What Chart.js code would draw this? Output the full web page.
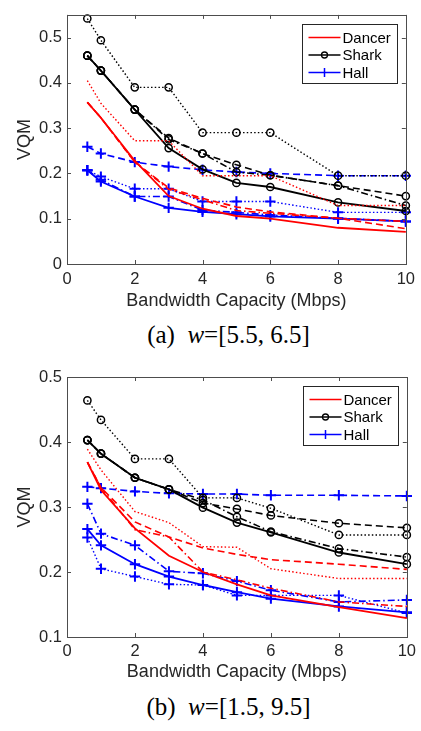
<!DOCTYPE html>
<html>
<head>
<meta charset="utf-8">
<script src="https://cdn.jsdelivr.net/npm/chart.js@4.4.1/dist/chart.umd.min.js"></script>
<style>
  html, body { margin: 0; padding: 0; background: #fff; }
  #page { position: relative; width: 421px; height: 731px; }
  canvas { position: absolute; left: 0; }
  .caption {
    position: absolute; left: 36px; width: 385px; text-align: center;
    font-family: "Liberation Serif", "Times New Roman", serif; font-size: 25px; line-height: 24px; color: #000;
  }
</style>
</head>
<body>
<div id="page">
  <canvas id="chartA" width="421" height="320" style="top:0"></canvas>
  <div class="caption" style="top:323px">(a)&nbsp; <i>w</i>=[5.5, 6.5]</div>
  <canvas id="chartB" width="421" height="330" style="top:360px"></canvas>
  <div class="caption" style="top:695px">(b)&nbsp; <i>w</i>=[1.5, 9.5]</div>
</div>
<script>
// bandwidth capacity (Mbps)
var capacity = [0.6, 1, 2, 3, 4, 5, 6, 8, 10];
var videos = ['Dancer', 'Shark', 'Hall'];
var xTicks = [0, 2, 4, 6, 8, 10];
var yTicksA = [0, 0.1, 0.2, 0.3, 0.4, 0.5];
var yTicksB = [0.1, 0.2, 0.3, 0.4, 0.5];

// (a) w=[5.5, 6.5]
var dancerSolidA   = [0.357, 0.323, 0.228, 0.150, 0.122, 0.106, 0.100, 0.080, 0.071];
var dancerDashA    = [0.357, 0.323, 0.225, 0.168, 0.145, 0.126, 0.115, 0.101, 0.078];
var dancerDotA     = [0.405, 0.355, 0.272, 0.272, 0.195, 0.195, 0.195, 0.129, 0.129];
var dancerDashDotA = [0.357, 0.323, 0.225, 0.165, 0.142, 0.118, 0.112, 0.101, 0.094];
var sharkSolidA    = [0.460, 0.427, 0.341, 0.256, 0.209, 0.179, 0.170, 0.136, 0.117];
var sharkDashA     = [0.460, 0.427, 0.341, 0.278, 0.244, 0.219, 0.196, 0.173, 0.150];
var sharkDotA      = [0.542, 0.494, 0.390, 0.390, 0.290, 0.290, 0.290, 0.195, 0.195];
var sharkDashDotA  = [0.460, 0.427, 0.341, 0.275, 0.244, 0.203, 0.196, 0.173, 0.129];
var hallSolidA     = [0.207, 0.182, 0.149, 0.124, 0.115, 0.110, 0.105, 0.100, 0.094];
var hallDashA      = [0.259, 0.244, 0.225, 0.215, 0.208, 0.203, 0.200, 0.195, 0.195];
var hallDotA       = [0.207, 0.193, 0.166, 0.166, 0.138, 0.138, 0.138, 0.114, 0.114];
var hallDashDotA   = [0.207, 0.186, 0.149, 0.149, 0.119, 0.114, 0.108, 0.101, 0.094];

// (b) w=[1.5, 9.5]
var dancerSolidB   = [0.369, 0.326, 0.267, 0.225, 0.200, 0.181, 0.164, 0.146, 0.129];
var dancerDashB    = [0.369, 0.330, 0.277, 0.254, 0.237, 0.227, 0.219, 0.212, 0.204];
var dancerDotB     = [0.389, 0.357, 0.293, 0.276, 0.239, 0.238, 0.205, 0.190, 0.190];
var dancerDashDotB = [0.369, 0.330, 0.265, 0.254, 0.200, 0.188, 0.175, 0.154, 0.147];
var sharkSolidB    = [0.403, 0.382, 0.345, 0.327, 0.299, 0.276, 0.261, 0.230, 0.212];
var sharkDashB     = [0.403, 0.382, 0.345, 0.327, 0.306, 0.297, 0.287, 0.275, 0.268];
var sharkDotB      = [0.464, 0.434, 0.374, 0.374, 0.314, 0.314, 0.298, 0.257, 0.257];
var sharkDashDotB  = [0.403, 0.382, 0.345, 0.327, 0.311, 0.285, 0.262, 0.236, 0.223];
var hallSolidB     = [0.266, 0.241, 0.212, 0.193, 0.180, 0.169, 0.159, 0.147, 0.138];
var hallDashB      = [0.331, 0.329, 0.324, 0.321, 0.320, 0.320, 0.318, 0.318, 0.317];
var hallDotB       = [0.253, 0.205, 0.193, 0.181, 0.180, 0.164, 0.164, 0.164, 0.137];
var hallDashDotB   = [0.305, 0.259, 0.241, 0.201, 0.198, 0.186, 0.172, 0.154, 0.157];

var TEXT = '#262626';
var FONT = '"Liberation Sans", Arial, Helvetica, sans-serif';
var colors = { Dancer: '#ff0000', Shark: '#000000', Hall: '#0000ff' };
var markers = { Dancer: false, Shark: 'circle', Hall: 'cross' };
var dashes = [[], [7, 4], [1.5, 2.2], [7, 3, 1.5, 3]];
var widths = [1.8, 1.6, 1.4, 1.6];

function toPoints(values) {
    return values.map(function (v, i) { return { x: capacity[i], y: v }; });
}

function buildDatasets(groups) {
    var out = [];
    videos.forEach(function (name, g) {
        groups[g].forEach(function (values, s) {
            var m = markers[name];
            out.push({
                label: name,
                data: toPoints(values),
                borderColor: colors[name],
                backgroundColor: 'transparent',
                borderWidth: widths[s],
                borderDash: dashes[s],
                pointStyle: m || 'circle',
                pointRadius: m ? (m === 'cross' ? 5.2 : 3.6) : 0,
                pointBorderWidth: m === 'cross' ? 2 : 1.5,
                pointBorderColor: colors[name],
                pointBackgroundColor: 'transparent',
                tension: 0,
                clip: 12
            });
        });
    });
    return out;
}

// box + inward tick marks, matlab style
var axisBox = {
    id: 'axisBox',
    afterDatasetsDraw: function (chart) {
        var a = chart.chartArea, ctx = chart.ctx, t = 4;
        var sx = chart.scales.x, sy = chart.scales.y;
        ctx.save();
        ctx.strokeStyle = '#4d4d4d';
        ctx.lineWidth = 1;
        ctx.strokeRect(Math.round(a.left) + 0.5, Math.round(a.top) + 0.5, Math.round(a.right - a.left), Math.round(a.bottom - a.top));
        ctx.beginPath();
        sx.ticks.forEach(function (tk) {
            var px = Math.round(sx.getPixelForValue(tk.value)) + 0.5;
            ctx.moveTo(px, a.bottom); ctx.lineTo(px, a.bottom - t);
            ctx.moveTo(px, a.top); ctx.lineTo(px, a.top + t);
        });
        sy.ticks.forEach(function (tk) {
            var py = Math.round(sy.getPixelForValue(tk.value)) + 0.5;
            ctx.moveTo(a.left, py); ctx.lineTo(a.left + t, py);
            ctx.moveTo(a.right, py); ctx.lineTo(a.right - t, py);
        });
        ctx.stroke();
        ctx.restore();
    }
};

var boxLegend = {
    id: 'boxLegend',
    afterDraw: function (chart) {
        var a = chart.chartArea, ctx = chart.ctx;
        var w = 95, h = 59;
        var left = Math.round(a.right - 9 - w) + 0.5, top = Math.round(a.top + 9) + 0.5;
        ctx.save();
        ctx.fillStyle = '#fff';
        ctx.fillRect(left, top, w, h);
        ctx.strokeStyle = '#262626';
        ctx.lineWidth = 1;
        ctx.strokeRect(left, top, w, h);
        ctx.font = '15px ' + FONT;
        ctx.textBaseline = 'middle';
        videos.forEach(function (name, i) {
            var y = top + 13 + i * 17.5;
            var x0 = left + 6, x1 = left + 38, xm = (x0 + x1) / 2;
            ctx.strokeStyle = colors[name];
            ctx.lineWidth = 1.6;
            ctx.beginPath(); ctx.moveTo(x0, y); ctx.lineTo(x1, y); ctx.stroke();
            if (markers[name] === 'circle') {
                ctx.lineWidth = 1.3;
                ctx.beginPath(); ctx.arc(xm, y, 3, 0, Math.PI * 2); ctx.stroke();
            } else if (markers[name] === 'cross') {
                ctx.lineWidth = 1.5;
                ctx.beginPath(); ctx.moveTo(xm, y - 4.5); ctx.lineTo(xm, y + 4.5); ctx.stroke();
            }
            ctx.fillStyle = '#000';
            ctx.fillText(name, left + 40, y + 1);
        });
        ctx.restore();
    }
};

function renderPanel(canvasId, groups, yMin, yMax, yTicks, padTop, xAxisH, tickPad, titlePad) {
    var ctx = document.getElementById(canvasId);
    return new Chart(ctx, {
        type: 'line',
        data: { datasets: buildDatasets(groups) },
        options: {
            responsive: false, animation: false,
            layout: { padding: { top: padTop, right: 12, left: 0, bottom: 0 } },
            plugins: { legend: { display: false }, tooltip: { enabled: false } },
            scales: {
                x: {
                    type: 'linear', min: 0, max: 10,
                    grid: { display: false, drawTicks: false }, border: { display: false },
                    afterBuildTicks: function (s) { s.ticks = xTicks.map(function (v) { return { value: v }; }); },
                    ticks: { padding: tickPad, color: TEXT, font: { family: FONT, size: 16.5 }, maxRotation: 0,
                             callback: function (v) { return String(v); } },
                    title: { display: true, text: 'Bandwidth Capacity (Mbps)', color: TEXT,
                             font: { family: FONT, size: 18 }, padding: { top: 0, bottom: titlePad } },
                    afterFit: function (s) { s.height = xAxisH; }
                },
                y: {
                    min: yMin, max: yMax,
                    grid: { display: false, drawTicks: false }, border: { display: false },
                    afterBuildTicks: function (s) { s.ticks = yTicks.map(function (v) { return { value: v }; }); },
                    ticks: { padding: 5, color: TEXT, font: { family: FONT, size: 16.5 },
                             callback: function (v) { return v === 0 ? '0' : v.toFixed(1); } },
                    title: { display: true, text: 'VQM', color: TEXT,
                             font: { family: FONT, size: 18 }, padding: { top: 14, bottom: 0 } },
                    afterFit: function (s) { s.width = 67; }
                }
            }
        },
        plugins: [axisBox, boxLegend]
    });
}

renderPanel('chartA', [
    [dancerSolidA, dancerDashA, dancerDotA, dancerDashDotA],
    [sharkSolidA, sharkDashA, sharkDotA, sharkDashDotA],
    [hallSolidA, hallDashA, hallDotA, hallDashDotA]
], 0, 0.55, yTicksA, 5, 56, 6, 8);

renderPanel('chartB', [
    [dancerSolidB, dancerDashB, dancerDotB, dancerDashDotB],
    [sharkSolidB, sharkDashB, sharkDotB, sharkDashDotB],
    [hallSolidB, hallDashB, hallDotB, hallDashDotB]
], 0.1, 0.5, yTicksB, 17, 53, 5, 7);
</script>
</body>
</html>
